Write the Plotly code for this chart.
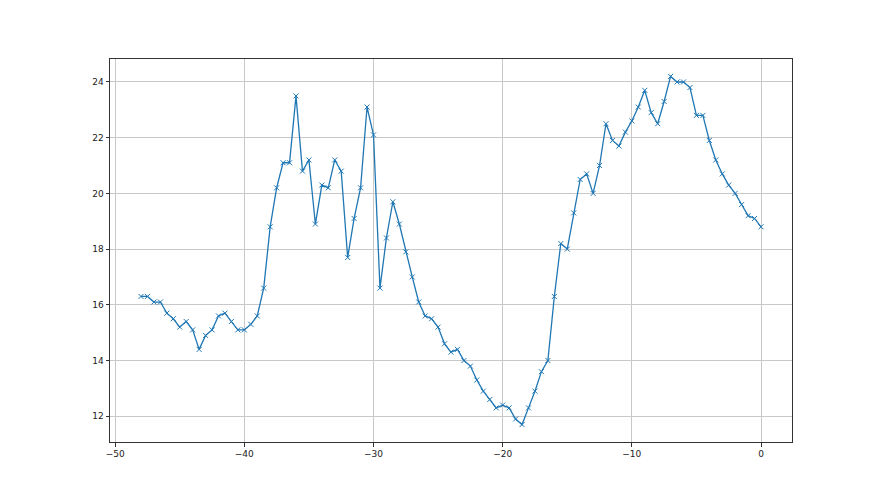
import plotly.graph_objects as go

x_values = [i * 0.5 for i in range(-96, 1)]
y_values = [
    16.3, 16.3, 16.1, 16.1, 15.7, 15.5, 15.2, 15.4, 15.1, 14.4,
    14.9, 15.1, 15.6, 15.7, 15.4, 15.1, 15.1, 15.3, 15.6, 16.6,
    18.8, 20.2, 21.1, 21.1, 23.5, 20.8, 21.2, 18.9, 20.3, 20.2,
    21.2, 20.8, 17.7, 19.1, 20.2, 23.1, 22.1, 16.6, 18.4, 19.7,
    18.9, 17.9, 17.0, 16.1, 15.6, 15.5, 15.2, 14.6, 14.3, 14.4,
    14.0, 13.8, 13.3, 12.9, 12.6, 12.3, 12.4, 12.3, 11.9, 11.7,
    12.3, 12.9, 13.6, 14.0, 16.3, 18.2, 18.0, 19.3, 20.5, 20.7,
    20.0, 21.0, 22.5, 21.9, 21.7, 22.2, 22.6, 23.1, 23.7, 22.9,
    22.5, 23.3, 24.2, 24.0, 24.0, 23.8, 22.8, 22.8, 21.9, 21.2,
    20.7, 20.3, 20.0, 19.6, 19.2, 19.1, 18.8,
]
x_ticks = [-50, -40, -30, -20, -10, 0]
y_ticks = [12, 14, 16, 18, 20, 22, 24]

fig = go.Figure(go.Scatter(
    x=x_values, y=y_values, mode="lines+markers",
    line=dict(color="#1f77b4", width=1.3),
    marker=dict(symbol="x-thin", size=5, line=dict(color="#1f77b4", width=1)),
    showlegend=False,
))

axis_common = dict(
    showgrid=True, gridcolor="#c8c8c8", gridwidth=0.8,
    showline=True, linecolor="#333333", linewidth=1, mirror=True,
    ticks="outside", ticklen=3.5, tickcolor="#333333",
    tickfont=dict(family="DejaVu Sans", size=9, color="#222222"),
    zeroline=False,
)
fig.update_xaxes(range=[-50.4, 2.4], tickvals=x_ticks,
                 ticktext=["\u221250", "\u221240", "\u221230", "\u221220", "\u221210", "0"],
                 **axis_common)
fig.update_yaxes(range=[11.075, 24.825], tickvals=y_ticks, **axis_common)

fig.update_layout(
    width=880, height=495,
    margin=dict(l=102, r=96, t=51, b=61),
    paper_bgcolor="white", plot_bgcolor="white",
)
fig.write_html("out.html")
